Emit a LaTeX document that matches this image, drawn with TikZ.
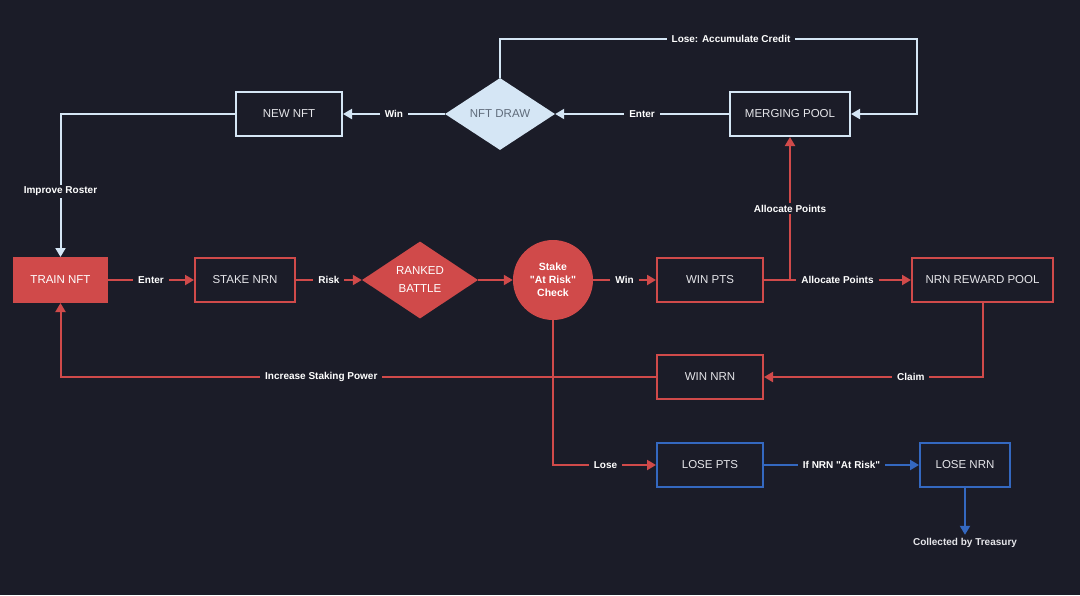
\documentclass[tikz,border=0pt]{standalone}
\usepackage{fontspec}
\setmainfont{Liberation Sans}[Ligatures=TeXOff]
\usetikzlibrary{shapes.geometric,arrows.meta}
\definecolor{bg}{HTML}{1B1C28}
\definecolor{rd}{HTML}{D04A4A}
\definecolor{lb}{HTML}{D5E6F5}
\definecolor{bl}{HTML}{3468C0}
\definecolor{txt}{HTML}{E6E6EA}
\definecolor{dtxt}{HTML}{5F6B7A}
\tikzset{
  box/.style={draw, line width=2pt, fill=bg, text=txt, minimum height=44pt, inner sep=0pt, font=\fontsize{11.5}{13}\selectfont},
  redbox/.style={box, draw=rd},
  lbbox/.style={box, draw=lb},
  blbox/.style={box, draw=bl},
  lbl/.style={fill=bg, text=white, font=\bfseries\fontsize{10}{12}\selectfont, inner xsep=5pt, inner ysep=2pt},
  conn/.style={line width=2pt, -{Triangle[length=9pt,width=10pt]}},
}
\begin{document}
\begin{tikzpicture}[x=1pt,y=-1pt]
\fill[bg] (0,0) rectangle (1080,595);
\useasboundingbox (0,0) rectangle (1080,595);

% red row
\node[redbox, fill=rd, text=white, minimum width=93pt] (train) at (60.5,280) {TRAIN NFT};
\node[redbox, minimum width=100pt] (stake) at (245,280) {STAKE NRN};
\node[diamond, fill=rd, text=white, minimum width=116pt, minimum height=77pt, inner sep=0pt, align=center, font=\fontsize{11.5}{18}\selectfont] (ranked) at (420,280) {RANKED\\BATTLE};
\node[circle, fill=rd, text=white, minimum size=80pt, inner sep=0pt, align=center, font=\bfseries\fontsize{10.5}{13}\selectfont] (check) at (553,280) {Stake\\"At Risk"\\Check};
\node[redbox, minimum width=106pt] (winpts) at (710,280) {WIN PTS};
\node[redbox, minimum width=141pt] (pool) at (982.5,280) {NRN REWARD POOL};
\node[redbox, minimum width=106pt] (winnrn) at (710,377) {WIN NRN};

% blue row
\node[blbox, minimum width=106pt] (losepts) at (710,465) {LOSE PTS};
\node[blbox, minimum width=90pt] (losenrn) at (965,465) {LOSE NRN};
\node[text=txt, font=\bfseries\fontsize{10}{12}\selectfont] (treas) at (965,543) {Collected by Treasury};

% top row
\node[lbbox, minimum width=120pt] (merge) at (790,114) {MERGING POOL};
\node[diamond, fill=lb, text=dtxt, minimum width=110pt, minimum height=72pt, inner sep=0pt, font=\fontsize{11.5}{13}\selectfont] (draw) at (500,114) {NFT DRAW};
\node[lbbox, minimum width=106pt] (newnft) at (289,114) {NEW NFT};

\coordinate (tl) at (500,39);
\coordinate (tr) at (917,39);

% red connectors
\draw[conn, rd] (train) -- node[lbl]{Enter} (stake);
\draw[conn, rd] (stake) -- node[lbl]{Risk} (ranked);
\draw[conn, rd] (ranked) -- (check);
\draw[conn, rd] (check) -- node[lbl]{Win} (winpts);
\draw[conn, rd] (winpts) -- node[lbl]{Allocate Points} (pool);
\draw[conn, rd] (winpts.east) -| node[lbl, pos=0.75]{Allocate Points} (merge.south);
\draw[conn, rd] (pool.south) |- node[lbl, pos=0.664]{Claim} (winnrn.east);
\draw[conn, rd] (winnrn.west) -| node[lbl, pos=0.281]{Increase Staking Power} (train.south);
\draw[conn, rd] (check.south) |- node[lbl, pos=0.755]{Lose} (losepts.west);

% blue connectors
\draw[conn, bl] (losepts) -- node[lbl]{If NRN "At Risk"} (losenrn);
\draw[conn, bl] (losenrn.south) -- (treas.north);

% light blue connectors
\draw[conn, lb] (merge) -- node[lbl]{Enter} (draw);
\draw[conn, lb] (draw) -- node[lbl]{Win} (newnft);
\draw[conn, lb] (draw.north) -- (tl) -- node[lbl, pos=0.554]{Lose: Accumulate Credit} (tr) |- (merge.east);
\draw[conn, lb] (newnft.west) -| node[lbl, pos=0.77]{Improve Roster} (train.north);
\end{tikzpicture}
\end{document}
